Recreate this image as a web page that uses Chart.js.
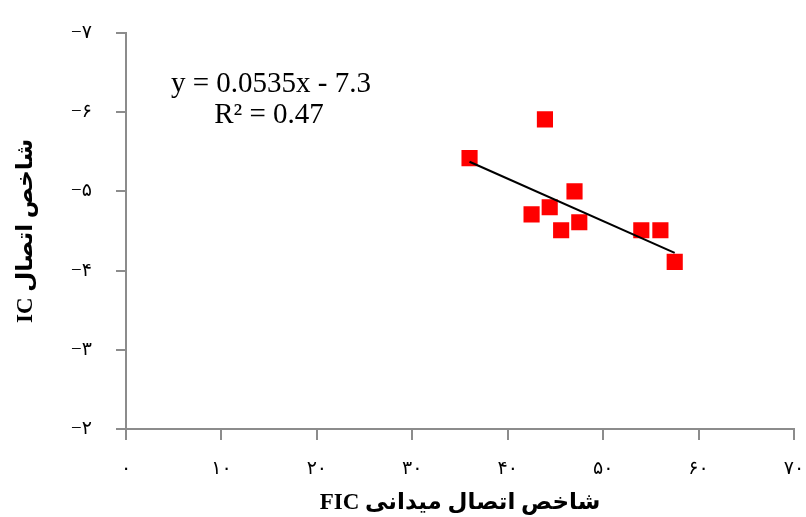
<!DOCTYPE html>
<html>
<head>
<meta charset="utf-8">
<script src="https://cdn.jsdelivr.net/npm/chart.js@4/dist/chart.umd.min.js"></script>
<style>
  body { margin: 0; background: #fff; }
</style>
</head>
<body>
<canvas id="myChart" width="806" height="517"></canvas>
<script>
// data
var ficValues = [36.0, 43.9, 42.5, 44.4, 45.6, 47.0, 47.5, 54.0, 56.0, 57.5];
var icValues = [-5.42, -5.91, -4.71, -4.80, -4.51, -5.00, -4.61, -4.51, -4.51, -4.11];
// trendline as printed on the chart
var trendSlope = 0.0535;
var trendIntercept = -7.3;
var trendText = ["y = 0.0535x - 7.3", "R² = 0.47"];
var xTitle = "شاخص اتصال میدانی FIC";
var yTitle = "شاخص اتصال IC";

var persianDigits = "۰۱۲۳۴۵۶۷۸۹";
function toPersian(v) {
	var s = String(Math.abs(v)).replace(/[0-9]/g, function (d) { return persianDigits[+d]; });
	return v < 0 ? "\u2212" + s : s;
}
//right-to-left embedding so the latin part ends up on the left
function rtl(s) { return "\u202B" + s + "\u202C"; }

var points = ficValues.map(function (x, i) { return { x: x, y: icValues[i] }; });
var xMin = Math.min.apply(null, ficValues);
var xMax = Math.max.apply(null, ficValues);
var trendPoints = [
	{ x: xMin, y: trendSlope * xMin + trendIntercept },
	{ x: xMax, y: trendSlope * xMax + trendIntercept }
];

var serif = "'Times New Roman', 'Liberation Serif', 'DejaVu Sans', serif";
var axisGray = "#8c8c8c";

//writes the equation text
var equationPlugin = {
	id: 'equation',
	afterDraw: function (chart) {
		var ctx = chart.ctx;
		ctx.save();
		ctx.fillStyle = "#000";
		ctx.font = "29px " + serif;
		ctx.textAlign = "center";
		ctx.textBaseline = "alphabetic";
		ctx.fillText(trendText[0], 271, 92);
		ctx.fillText(trendText[1], 269, 123);
		ctx.restore();
	}
};

//labels may hang over the edge, like in the original
function noPadding(axis) {
	axis.paddingLeft = 0;
	axis.paddingRight = 0;
	axis.paddingTop = 0;
	axis.paddingBottom = 0;
}

var ctx = "myChart";
var myChart = new Chart(ctx, {
	type: 'scatter',
	data: {
		datasets: [{
			type: 'line',
			data: trendPoints,
			borderColor: "#000",
			borderWidth: 2,
			pointRadius: 0,
			fill: false,
			order: 0
		}, {
			data: points,
			pointStyle: 'rect',
			pointRadius: 10,
			pointHoverRadius: 10,
			pointBorderWidth: 2,
			pointBorderColor: "#ff0000",
			pointBackgroundColor: "#ff0000",
			borderJoinStyle: 'round',
			order: 1
		}]
	},
	options: {
		responsive: false,
		animation: false,
		layout: { padding: { top: 33, right: 1, left: 0, bottom: 0 } },
		plugins: { legend: { display: false }, tooltip: { enabled: false } },
		scales: {
			x: {
				type: 'linear',
				min: 0,
				max: 70,
				ticks: {
					stepSize: 10,
					padding: 18,
					color: "#000",
					font: { family: serif, size: 19 },
					callback: function (v) { return toPersian(v); }
				},
				grid: { drawOnChartArea: false, tickLength: 11, color: axisGray, lineWidth: 2 },
				border: { color: axisGray, width: 2 },
				title: {
					display: true,
					text: rtl(xTitle),
					color: "#000",
					font: { family: serif, size: 23, weight: 'bold' },
					padding: { top: 0, bottom: 0 }
				},
				afterFit: function (axis) {
					axis.height = 88;
					noPadding(axis);
				}
			},
			y: {
				type: 'linear',
				min: -7,
				max: -2,
				reverse: true,
				ticks: {
					stepSize: 1,
					padding: 24,
					color: "#000",
					font: { family: serif, size: 19 },
					callback: function (v) { return toPersian(v); }
				},
				grid: { drawOnChartArea: false, tickLength: 10, color: axisGray, lineWidth: 2 },
				border: { color: axisGray, width: 2 },
				title: {
					display: true,
					text: rtl(yTitle),
					color: "#000",
					font: { family: serif, size: 23, weight: 'bold' },
					padding: { top: 12, bottom: 0 }
				},
				afterFit: function (axis) {
					axis.width = 126;
					noPadding(axis);
				}
			}
		}
	},
	plugins: [equationPlugin]
});
</script>
</body>
</html>
